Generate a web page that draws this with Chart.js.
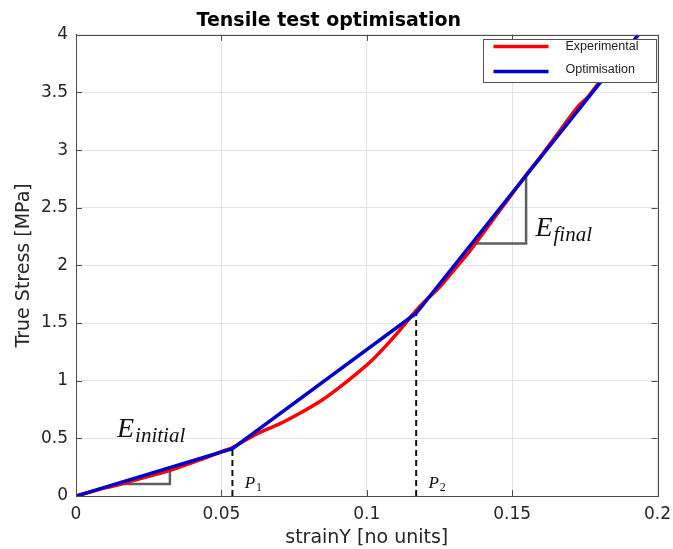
<!DOCTYPE html>
<html>
<head>
<meta charset="utf-8">
<script src="https://cdn.jsdelivr.net/npm/chart.js@4.4.1/dist/chart.umd.min.js"></script>
<style>
  html, body { margin: 0; padding: 0; background: #fff; }
  #wrap { width: 673px; height: 549px; }
</style>
</head>
<body>
<div id="wrap"><canvas id="chart"></canvas></div>
<script>
// experimental curve (strain, true stress in MPa)
const expStrain = [0, 0.005, 0.01, 0.015, 0.02, 0.025, 0.03, 0.035, 0.04, 0.045, 0.05, 0.0538, 0.0563,
  0.0631, 0.07, 0.0768, 0.0848, 0.0905, 0.0962, 0.1019, 0.1065, 0.1111, 0.1145, 0.117, 0.12, 0.125,
  0.13, 0.135, 0.14, 0.145, 0.15, 0.155, 0.16, 0.165, 0.17, 0.1727, 0.176, 0.18, 0.185, 0.19];
const expStress = [0, 0.035, 0.07, 0.1, 0.135, 0.17, 0.205, 0.245, 0.29, 0.335, 0.385, 0.42, 0.455,
  0.55, 0.625, 0.715, 0.835, 0.94, 1.055, 1.18, 1.3, 1.43, 1.535, 1.61, 1.69, 1.81,
  1.96, 2.11, 2.28, 2.45, 2.62, 2.79, 2.95, 3.12, 3.29, 3.38, 3.46, 3.59, 3.76, 3.93];

// optimised piecewise-linear fit
const optStrain = [0, 0.0538, 0.117, 0.1934];
const optStress = [0, 0.41, 1.585, 4.0];

// dashed guides at P1 and P2
const p1GuideX = [0.0538, 0.0538];
const p1GuideY = [0, 0.41];
const p2GuideX = [0.117, 0.117];
const p2GuideY = [0, 1.585];

// slope triangles
const eInitX = [0.0135, 0.0323, 0.0323];
const eInitY = [0.103, 0.103, 0.246];
const eFinalX = [0.1362, 0.1548, 0.1548];
const eFinalY = [2.19, 2.19, 2.777];

// text annotations: [main, subscript, strain, stress, size, subscript size]
const notes = [
  ["E", "initial", 0.0141, 0.513, 28, 21],
  ["E", "final", 0.158, 2.255, 28, 21],
  ["P", "1", 0.058, 0.07, 17, 12],
  ["P", "2", 0.1212, 0.07, 17, 12]
];

const xTicks = [0, 0.05, 0.1, 0.15, 0.2];
const yTicks = [0, 0.5, 1, 1.5, 2, 2.5, 3, 3.5, 4];

const legendItems = [
  ["Experimental", "#ff0000"],
  ["Optimisation", "#0000cc"]
];

const zip = (xs, ys) => xs.map((x, i) => ({ x: x, y: ys[i] }));
const axisColor = "#4d4d4d";
const tickFont = { family: "DejaVu Sans", size: 17 };

const frame = {
  id: "frame",
  afterDatasetsDraw(chart) {
    const { ctx, chartArea: a, scales } = chart;
    ctx.save();
    // annotations
    ctx.fillStyle = "#111";
    ctx.textBaseline = "alphabetic";
    notes.forEach(n => {
      const px = scales.x.getPixelForValue(n[2]);
      const py = scales.y.getPixelForValue(n[3]);
      ctx.font = "italic " + n[4] + "px 'Liberation Serif'";
      ctx.fillText(n[0], px, py);
      const w = ctx.measureText(n[0]).width;
      ctx.font = (n[0] === "P" ? "" : "italic ") + n[5] + "px 'Liberation Serif'";
      ctx.fillText(n[1], px + w + 1, py + (n[0] === "P" ? 3 : 5));
    });

    // box + inward ticks
    ctx.strokeStyle = axisColor;
    ctx.lineWidth = 1;
    ctx.strokeRect(Math.round(a.left) + 0.5, Math.round(a.top) + 0.5,
      Math.round(a.right - a.left), Math.round(a.bottom - a.top));
    ctx.beginPath();
    xTicks.forEach(v => {
      const px = Math.round(scales.x.getPixelForValue(v)) + 0.5;
      ctx.moveTo(px, a.bottom); ctx.lineTo(px, a.bottom - 6);
      ctx.moveTo(px, a.top); ctx.lineTo(px, a.top + 6);
    });
    yTicks.forEach(v => {
      const py = Math.round(scales.y.getPixelForValue(v)) + 0.5;
      ctx.moveTo(a.left, py); ctx.lineTo(a.left + 6, py);
      ctx.moveTo(a.right, py); ctx.lineTo(a.right - 6, py);
    });
    ctx.stroke();

    // legend box
    const bw = 173, bh = 43;
    const bx = Math.round(a.right) - 2 - bw + 0.5;
    const by = Math.round(a.top) + 4.5;
    ctx.fillStyle = "#fff";
    ctx.fillRect(bx, by, bw, bh);
    ctx.strokeStyle = "#555";
    ctx.strokeRect(bx, by, bw, bh);
    ctx.font = "12.5px 'Liberation Sans'";
    ctx.textBaseline = "middle";
    legendItems.forEach((it, i) => {
      const ly = by + 7 + i * 25;
      ctx.strokeStyle = it[1];
      ctx.lineWidth = 3.5;
      ctx.beginPath();
      ctx.moveTo(bx + 10, ly); ctx.lineTo(bx + 65, ly);
      ctx.stroke();
      ctx.fillStyle = "#222";
      ctx.fillText(it[0], bx + 82, ly - i * 1.5);
    });
    ctx.restore();
  }
};

new Chart(document.getElementById("chart"), {
  type: "scatter",
  data: {
    datasets: [
      { data: zip(optStrain, optStress), borderColor: "#0000cc", borderWidth: 3.5 },
      { data: zip(expStrain, expStress), borderColor: "#ff0000", borderWidth: 3.5, cubicInterpolationMode: "monotone" },
      { data: zip(p1GuideX, p1GuideY), borderColor: "#111", borderWidth: 2, borderDash: [6, 4] },
      { data: zip(p2GuideX, p2GuideY), borderColor: "#111", borderWidth: 2, borderDash: [6, 4] },
      { data: zip(eInitX, eInitY), borderColor: "#5f5f5f", borderWidth: 2.5 },
      { data: zip(eFinalX, eFinalY), borderColor: "#5f5f5f", borderWidth: 2.5 }
    ].map(d => Object.assign(d, { showLine: true, pointRadius: 0, fill: false }))
  },
  options: {
    responsive: true,
    maintainAspectRatio: false,
    animation: false,
    layout: { padding: { left: 0, right: 15.5, top: 0, bottom: 0 } },
    plugins: {
      legend: { display: false },
      tooltip: { enabled: false },
      title: {
        display: true,
        text: "Tensile test optimisation",
        color: "#000",
        font: { family: "DejaVu Sans", size: 19, weight: "bold" },
        padding: { top: 10, bottom: 2 }
      }
    },
    scales: {
      x: {
        type: "linear",
        min: 0, max: 0.2,
        afterFit: s => { s.height = 53; s.paddingLeft = 0; s.paddingRight = 0; },
        afterBuildTicks: s => { s.ticks = xTicks.map(v => ({ value: v })); },
        ticks: {
          color: "#262626", font: tickFont, padding: 8,
          callback: v => String(+v.toFixed(3))
        },
        grid: { color: "#e3e3e3", drawTicks: false },
        border: { color: axisColor },
        title: {
          display: true, text: "strainY [no units]", color: "#262626",
          font: { family: "DejaVu Sans", size: 19 }, padding: { top: 0, bottom: 0 }
        }
      },
      y: {
        type: "linear",
        min: 0, max: 4,
        afterFit: s => { s.width = 76; },
        afterBuildTicks: s => { s.ticks = yTicks.map(v => ({ value: v })); },
        ticks: {
          color: "#262626", font: tickFont, padding: 8,
          callback: v => String(v)
        },
        grid: { color: "#e3e3e3", drawTicks: false },
        border: { color: axisColor },
        title: {
          display: true, text: "True Stress [MPa]", color: "#262626",
          font: { family: "DejaVu Sans", size: 19 }, padding: { top: 13, bottom: 0 }
        }
      }
    }
  },
  plugins: [frame]
});
</script>
</body>
</html>
